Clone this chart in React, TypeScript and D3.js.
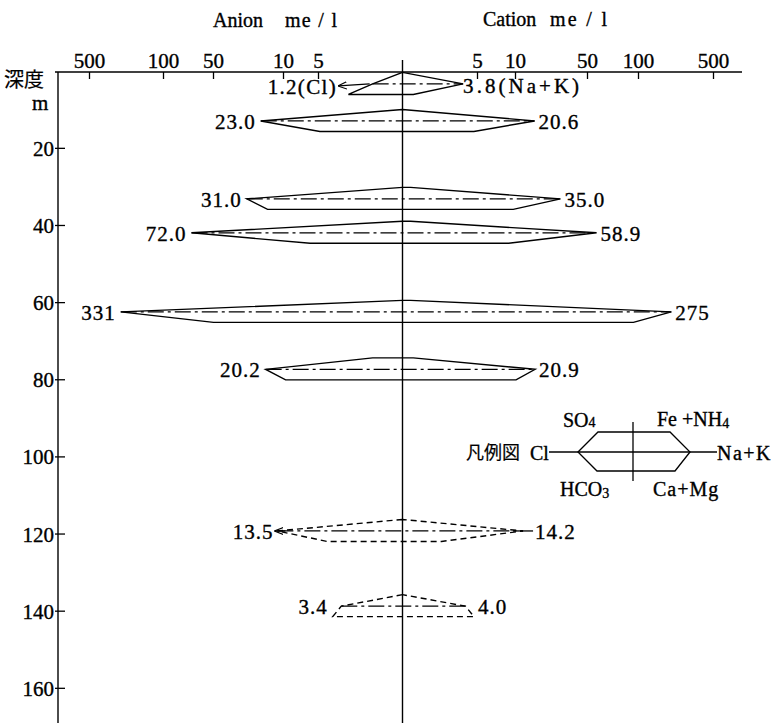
import React from 'react';
import * as d3 from 'd3';

// ---------- data ----------
const depthTicks = [20, 40, 60, 80, 100, 120, 140, 160];
const concTicks = [5, 10, 50, 100, 500];
const scaleKnots = [0, 1, 5, 10, 50, 100, 500, 1000];

const sampleDepth = [3.3, 12.9, 33.1, 41.9, 62.4, 77.3, 119.2, 138.7];
const cl = [1.2, 23.0, 31.0, 72.0, 331, 20.2, 13.5, 3.4];
const so4 = [0, 0, 0, 0, 0, 1.2, 0, 0];
const hco3 = [2.9, 4.9, 19.1, 6.2, 50, 9.7, 4.4, 4.0];
const naK = [3.8, 20.6, 35.0, 58.9, 275, 20.9, 14.2, 4.0];
const feNH4 = [0, 0, 0.3, 0.3, 0.3, 0.4, 0, 0];
const caMg = [0.4, 4.7, 9.7, 9.1, 95, 10.3, 2.0, 4.7];
const estimated = [false, false, false, false, false, false, true, true];

// ---------- layout ----------
const W = 782;
const H = 723;
const cx = 402.5;
const axisY = 72;
const leftX = 58;
const topOff = 11.5;
const botOff = 10.5;

const yScale = d3.scaleLinear().domain([0, 170]).range([71.2, 71.2 + 170 * 3.857]);
const anion = d3.scaleLinear().domain(scaleKnots).range([0, 27, 84, 119, 189, 239, 313, 345]);
const cation = d3.scaleLinear().domain(scaleKnots).range([0, 27, 75, 113, 185, 236, 311, 345]);
const xA = (v: number) => cx - anion(v);
const xC = (v: number) => cx + cation(v);

const fmt = (v: number) => (v >= 100 ? d3.format('d')(v) : d3.format('.1f')(v));
const serif = "'Liberation Serif', 'Times New Roman', serif";
const cjk = "'Noto Sans CJK JP', 'Noto Sans CJK SC', sans-serif";
const ink = { fill: '#000', stroke: '#000', strokeWidth: 0.35 };

const line = d3.line<[number, number]>();

export default function App() {
  const samples = sampleDepth.map((d, i) => {
    const ym = yScale(d);
    const yt = ym - topOff;
    const yb = ym + botOff;
    const pts: [number, number][] = [
      [xA(so4[i]), yt],
      [xA(cl[i]), ym],
      [xA(hco3[i]), yb],
      [xC(caMg[i]), yb],
      [xC(naK[i]), ym],
      [xC(feNH4[i]), yt],
    ];
    const outerL = Math.min(xA(cl[i]), xA(hco3[i]), xA(so4[i]));
    const outerR = Math.max(xC(naK[i]), xC(caMg[i]), xC(feNH4[i]));
    return { i, ym, pts, xl: xA(cl[i]), xr: xC(naK[i]), outerL, outerR };
  });

  return (
    <svg width={W} height={H} style={{ position: 'absolute', left: 0, top: 0, background: '#fff' }}>
      <defs>
        <marker id="arr" viewBox="0 0 10 10" refX="9" refY="5" markerWidth="9" markerHeight="9"
          markerUnits="userSpaceOnUse" orient="auto">
          <path d="M0,1 L10,5 L0,9" fill="none" stroke="#000" strokeWidth="1.3" />
        </marker>
      </defs>

      {/* titles */}
      <text x={213} y={27} fontFamily={serif} fontSize={20} {...ink}>Anion</text>
      <text x={285} y={27} fontFamily={serif} fontSize={20} textLength={52} lengthAdjust="spacing" {...ink}>me / l</text>
      <text x={483} y={26} fontFamily={serif} fontSize={20} {...ink}>Cation</text>
      <text x={550} y={26} fontFamily={serif} fontSize={20} textLength={57} lengthAdjust="spacing" {...ink}>me / l</text>

      {/* top axis */}
      <line x1={leftX - 3} x2={742} y1={axisY} y2={axisY} stroke="#000" strokeWidth={1.4} />
      {concTicks.map((t) => (
        <g key={'a' + t}>
          <line x1={xA(t)} x2={xA(t)} y1={axisY} y2={axisY + 7} stroke="#000" strokeWidth={1.3} />
          <text x={xA(t)} y={68} textAnchor="middle" fontFamily={serif} fontSize={21} {...ink}>{t}</text>
        </g>
      ))}
      {concTicks.map((t) => (
        <g key={'c' + t}>
          <line x1={xC(t)} x2={xC(t)} y1={axisY} y2={axisY + 7} stroke="#000" strokeWidth={1.3} />
          <text x={xC(t)} y={68} textAnchor="middle" fontFamily={serif} fontSize={21} {...ink}>{t}</text>
        </g>
      ))}

      {/* left depth axis */}
      <line x1={leftX} x2={leftX} y1={axisY} y2={H} stroke="#000" strokeWidth={1.4} />
      {depthTicks.map((t) => (
        <g key={'d' + t}>
          <line x1={leftX - 3} x2={leftX + 7} y1={yScale(t)} y2={yScale(t)} stroke="#000" strokeWidth={1.3} />
          <text x={54} y={yScale(t) + 7.5} textAnchor="end" fontFamily={serif} fontSize={21} {...ink}>{t}</text>
        </g>
      ))}
      <text x={4} y={87} fontFamily={cjk} fontSize={20} {...ink} strokeWidth={0.2}>深度</text>
      <text x={32} y={110} fontFamily={serif} fontSize={21} {...ink}>m</text>

      {/* center line */}
      <line x1={cx} x2={cx} y1={60} y2={H} stroke="#000" strokeWidth={1.4} />

      {/* samples */}
      {samples.map((s) => {
        const dash = estimated[s.i] ? '6,4' : undefined;
        return (
          <g key={'s' + s.i}>
            <path d={line(s.pts) + 'Z'} fill="none" stroke="#000" strokeWidth={1.4}
              strokeDasharray={dash} strokeLinejoin="miter" />
            <path d={line([[s.xl, s.ym], [s.xr, s.ym]]) as string} fill="none" stroke="#000"
              strokeWidth={1.3} strokeDasharray="16,4,3,4" />
          </g>
        );
      })}

      {/* value labels */}
      {samples.map((s) => {
        const i = s.i;
        const by = s.ym + 8;
        if (i === 0) {
          return (
            <g key={'l' + i}>
              <line x1={s.xl - 3} y1={s.ym} x2={s.xl - 34} y2={s.ym + 2} stroke="#000" strokeWidth={1.3} markerEnd="url(#arr)" />
              <text x={s.xl - 37} y={by + 2} textAnchor="end" fontFamily={serif} fontSize={21}
                textLength={68} lengthAdjust="spacing" {...ink}>{fmt(cl[i]) + '(Cl)'}</text>
              <text x={s.xr} y={by + 1} fontFamily={serif} fontSize={21}
                textLength={116} lengthAdjust="spacing" {...ink}>{fmt(naK[i]) + '(Na+K)'}</text>
            </g>
          );
        }
        if (i === 6) {
          return (
            <g key={'l' + i}>
              <line x1={s.xl + 8} y1={s.ym} x2={s.xl - 2} y2={s.ym} stroke="#000" strokeWidth={1.3} markerEnd="url(#arr)" />
              <line x1={s.xr - 10} y1={s.ym} x2={s.xr + 10} y2={s.ym} stroke="#000" strokeWidth={1.3} />
              <text x={s.xl - 4} y={by} textAnchor="end" fontFamily={serif} fontSize={21} letterSpacing={1} {...ink}>{fmt(cl[i])}</text>
              <text x={s.xr + 12} y={by} fontFamily={serif} fontSize={21} letterSpacing={1} {...ink}>{fmt(naK[i])}</text>
            </g>
          );
        }
        return (
          <g key={'l' + i}>
            <text x={s.outerL - 5} y={by} textAnchor="end" fontFamily={serif} fontSize={21} letterSpacing={1} {...ink}>{fmt(cl[i])}</text>
            <text x={s.outerR + 4} y={by} fontFamily={serif} fontSize={21} letterSpacing={1} {...ink}>{fmt(naK[i])}</text>
          </g>
        );
      })}

      {/* legend */}
      <g>
        <text x={466} y={459} fontFamily={cjk} fontSize={18} {...ink} strokeWidth={0.2}>凡例図</text>
        <text x={530} y={460} fontFamily={serif} fontSize={20} {...ink}>Cl</text>
        <line x1={549} x2={717} y1={452} y2={452} stroke="#000" strokeWidth={1.3} />
        <path d="M578,452 L598,432 L670,432 L690,452 L675,471 L597,471 Z" fill="none" stroke="#000" strokeWidth={1.3} />
        <line x1={633} x2={633} y1={422} y2={481} stroke="#000" strokeWidth={1.3} />
        <text x={717} y={460} fontFamily={serif} fontSize={20} letterSpacing={1.5} {...ink}>Na+K</text>
        <text x={563} y={427} fontFamily={serif} fontSize={20} {...ink}>SO<tspan fontSize={14}>4</tspan></text>
        <text x={657} y={426} fontFamily={serif} fontSize={20} {...ink}>Fe<tspan dx={5}>+NH</tspan><tspan fontSize={14} dy={2}>4</tspan></text>
        <text x={560} y={496} fontFamily={serif} fontSize={20} {...ink}>HCO<tspan fontSize={14} dy={2}>3</tspan></text>
        <text x={653} y={496} fontFamily={serif} fontSize={20} letterSpacing={1} {...ink}>Ca+Mg</text>
      </g>
    </svg>
  );
}
